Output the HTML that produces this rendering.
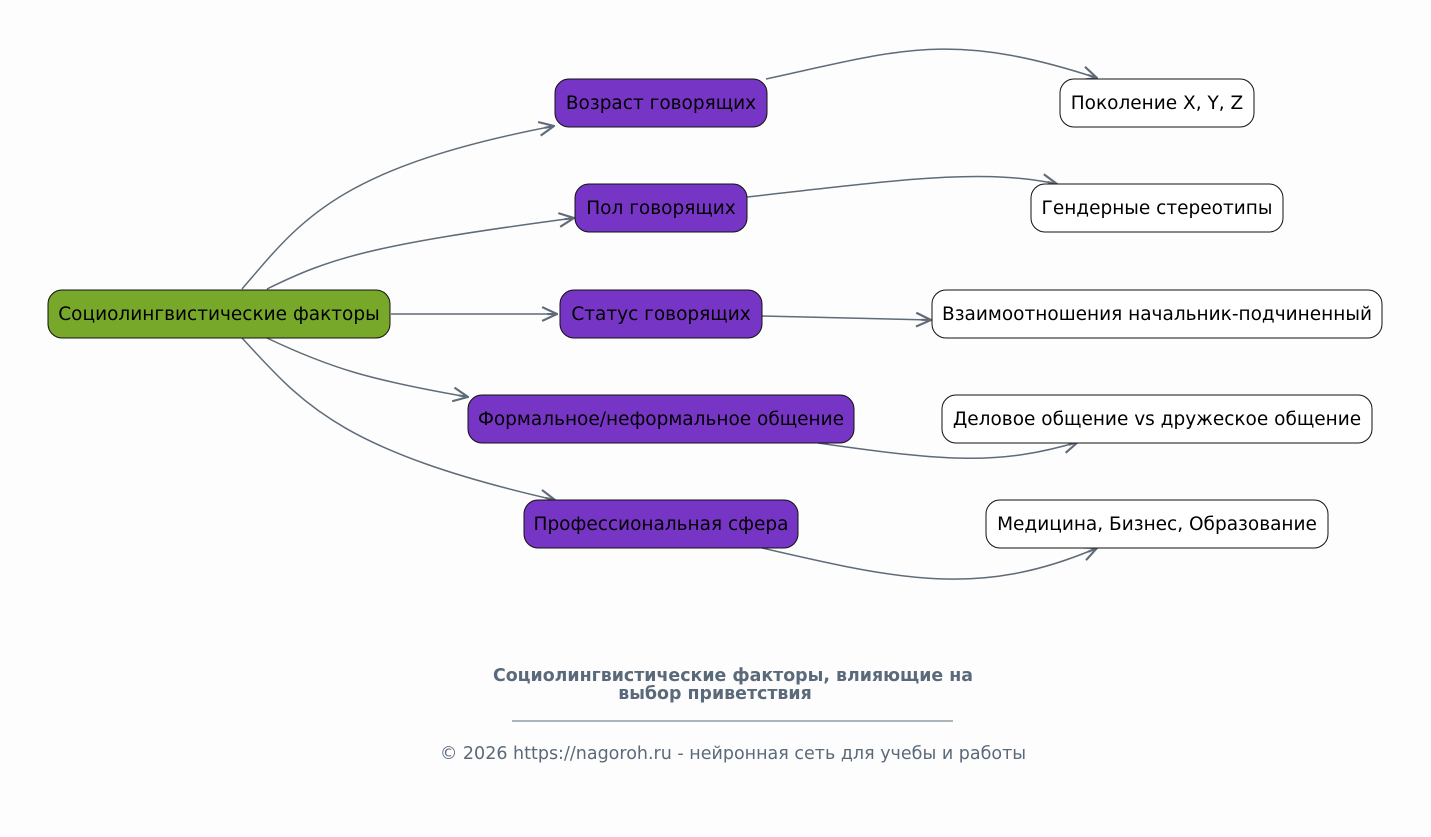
<!DOCTYPE html>
<html><head><meta charset="utf-8"><style>
html,body{margin:0;padding:0;background:#fdfdfd;}
svg{display:block;font-family:"DejaVu Sans","Liberation Sans",sans-serif;}
</style></head><body>
<svg width="1431" height="837" viewBox="0 0 1431 837" xmlns="http://www.w3.org/2000/svg">
<defs>
<marker id="a" viewBox="0 0 16 16" refX="15" refY="8" markerWidth="17" markerHeight="17" markerUnits="userSpaceOnUse" orient="auto">
<path d="M1 1.5 L15 8 L1 14.5 M6 8 L15 8" fill="none" stroke="#5f6b78" stroke-width="2"/>
</marker>
</defs>
<rect width="1431" height="837" fill="#fdfdfd"/>
<g fill="none" stroke="#5f6b78" stroke-width="1.5" marker-end="url(#a)">
<path d="M242 289 C300 222,335 168,554 126"/>
<path d="M267 289 C330 258,370 245,574 218"/>
<path d="M391 314 L557 314"/>
<path d="M267 338 C330 368,370 380,468 397"/>
<path d="M242 338 C300 400,335 450,555 500"/>
<path d="M766 79 C900 50,950 30,1097 78"/>
<path d="M747 197 C900 180,980 168,1057 184"/>
<path d="M762 316 L931 320"/>
<path d="M818 443 C950 462,1000 465,1078 442"/>
<path d="M762 548 C900 580,980 598,1097 548"/>
</g>
<g stroke="#111" stroke-width="1">
<rect x="48" y="290" width="342" height="48" rx="14" fill="#77a82a"/>
<rect x="555" y="79" width="212" height="48" rx="14" fill="#7735c6"/>
<rect x="575" y="184" width="172" height="48" rx="14" fill="#7735c6"/>
<rect x="560" y="290" width="202" height="48" rx="14" fill="#7735c6"/>
<rect x="468" y="395" width="386" height="48" rx="14" fill="#7735c6"/>
<rect x="524" y="500" width="274" height="48" rx="14" fill="#7735c6"/>
<rect x="1060" y="79" width="194" height="48" rx="14" fill="#fff"/>
<rect x="1031" y="184" width="252" height="48" rx="14" fill="#fff"/>
<rect x="932" y="290" width="450" height="48" rx="14" fill="#fff"/>
<rect x="942" y="395" width="430" height="48" rx="14" fill="#fff"/>
<rect x="986" y="500" width="342" height="48" rx="14" fill="#fff"/>
</g>
<g font-size="18.5" fill="#000" text-anchor="middle">
<text x="219" y="320">Социолингвистические факторы</text>
<text x="661" y="109">Возраст говорящих</text>
<text x="661" y="214">Пол говорящих</text>
<text x="661" y="320">Статус говорящих</text>
<text x="661" y="425">Формальное/неформальное общение</text>
<text x="661" y="530">Профессиональная сфера</text>
<text x="1157" y="109">Поколение X, Y, Z</text>
<text x="1157" y="214">Гендерные стереотипы</text>
<text x="1157" y="320">Взаимоотношения начальник-подчиненный</text>
<text x="1157" y="425">Деловое общение vs дружеское общение</text>
<text x="1157" y="530">Медицина, Бизнес, Образование</text>
</g>
<g fill="#5a6a7a" text-anchor="middle">
<text x="733" y="681" font-size="17.4" font-weight="bold">Социолингвистические факторы, влияющие на</text>
<text x="715" y="699" font-size="17.4" font-weight="bold">выбор приветствия</text>
<line x1="512" y1="721" x2="953" y2="721" stroke="#5a6a7a" stroke-width="1"/>
<text x="733" y="759" font-size="17.5">© 2026 https://nagoroh.ru - нейронная сеть для учебы и работы</text>
</g>
</svg>
</body></html>
